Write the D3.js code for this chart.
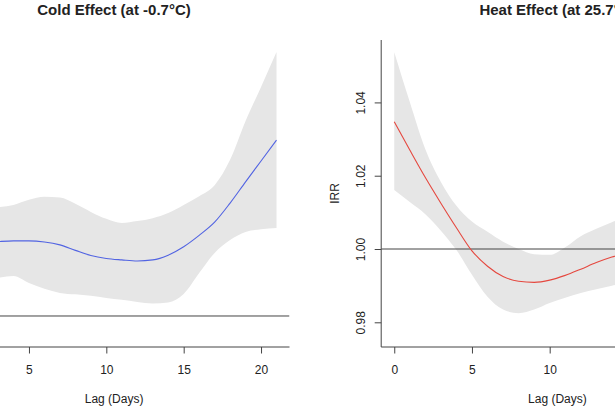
<!DOCTYPE html>
<html>
<head>
<meta charset="utf-8">
<script src="https://cdn.jsdelivr.net/npm/d3@7"></script>
<style>
  body { margin: 0; background: #fff; }
  svg { display: block; }
  text { font-family: "Liberation Sans", Arial, Helvetica, sans-serif; fill: #222; }
</style>
</head>
<body>
<div id="chart"></div>
<script>
// lag-response curves (IRR) with 95% CI
var lags = [0, 1, 2, 3, 4, 5, 6, 7, 8, 9, 10, 11, 12, 13, 14, 15, 16, 17, 18, 19, 20, 21];

var coldFit  = [1.0180, 1.0192, 1.0200, 1.0203, 1.0205, 1.0205, 1.0202, 1.0194, 1.0179, 1.0165, 1.0157,
                1.0153, 1.0150, 1.0153, 1.0166, 1.0189, 1.0220, 1.0256, 1.0308, 1.0366, 1.0423, 1.0480];
var coldHigh = [1.0280, 1.0290, 1.0295, 1.0297, 1.0303, 1.0317, 1.0325, 1.0323, 1.0306, 1.0284, 1.0265,
                1.0254, 1.0259, 1.0267, 1.0281, 1.0303, 1.0327, 1.0357, 1.0426, 1.0532, 1.0625, 1.0720];
var coldLow  = [1.0040, 1.0080, 1.0095, 1.0104, 1.0109, 1.0090, 1.0074, 1.0063, 1.0059, 1.0055, 1.0049,
                1.0044, 1.0038, 1.0034, 1.0037, 1.0060, 1.0117, 1.0172, 1.0207, 1.0229, 1.0237, 1.0240];

var heatFit  = [1.0347, 1.0270, 1.0195, 1.0125, 1.0058, 0.9995, 0.9953, 0.9925, 0.9912, 0.9909, 0.9915,
                0.9928, 0.9945, 0.9963, 0.9978, 0.9990, 0.9998, 1.0003, 1.0005, 1.0005, 1.0003, 1.0000];
var heatHigh = [1.0537, 1.0401, 1.0272, 1.0183, 1.0118, 1.0075, 1.0047, 1.0020, 1.0000, 0.9986, 0.9984,
                1.0005, 1.0035, 1.0055, 1.0073, 1.0088, 1.0100, 1.0110, 1.0120, 1.0130, 1.0140, 1.0150];
var heatLow  = [1.0161, 1.0128, 1.0095, 1.0050, 0.9997, 0.9930, 0.9870, 0.9835, 0.9825, 0.9835, 0.9853,
                0.9867, 0.9880, 0.9890, 0.9900, 0.9905, 0.9905, 0.9900, 0.9890, 0.9880, 0.9870, 0.9850];

var xTicks = [0, 5, 10, 15, 20];
var coldYTicks = [1.00, 1.02, 1.04, 1.06];
var heatYTicks = [0.98, 1.00, 1.02, 1.04];
var coldYLim = [0.99154, 1.0753];
var heatYLim = [0.97326, 1.05703];
var titles = ["Cold Effect (at -0.7\u00b0C)", "Heat Effect (at 25.7\u00b0C)"];

var W = 615, H = 410;
var plotTop = 40, plotBottom = 347;

var svg = d3.select("#chart").append("svg")
    .attr("width", W).attr("height", H);

var panels = [
    {id: "cold", left: -61.4, right: 289.5, fit: coldFit, low: coldLow, high: coldHigh,
     ylim: coldYLim, yTicks: coldYTicks, color: "#5264e2", title: titles[0]},
    {id: "heat", left: 381.2, right: 733.7, fit: heatFit, low: heatLow, high: heatHigh,
     ylim: heatYLim, yTicks: heatYTicks, color: "#e5483f", title: titles[1]}
];

panels.forEach(function(p) {
    var pad = (d3.max(lags) - d3.min(lags)) * 0.04;
    var x = d3.scaleLinear().domain([d3.min(lags) - pad, d3.max(lags) + pad]).range([p.left, p.right]);
    var y = d3.scaleLinear().domain(p.ylim).range([plotBottom, plotTop]);
    var g = svg.append("g").attr("class", "panel-" + p.id);

    g.append("clipPath").attr("id", "clip-" + p.id)
      .append("rect")
        .attr("x", p.left).attr("y", plotTop)
        .attr("width", p.right - p.left).attr("height", plotBottom - plotTop);

    var plot = g.append("g").attr("clip-path", "url(#clip-" + p.id + ")");

    // confidence band
    plot.append("path")
        .datum(lags)
        .attr("fill", "#e6e6e6")
        .attr("d", d3.area()
            .x(function(d, i) { return x(d); })
            .y0(function(d, i) { return y(p.low[i]); })
            .y1(function(d, i) { return y(p.high[i]); })
            .curve(d3.curveMonotoneX));

    // reference line at IRR = 1
    plot.append("line")
        .attr("x1", p.left).attr("x2", p.right)
        .attr("y1", y(1)).attr("y2", y(1))
        .attr("stroke", "#444").attr("stroke-width", 1);

    // fitted curve
    plot.append("path")
        .datum(lags)
        .attr("fill", "none")
        .attr("stroke", p.color)
        .attr("stroke-width", 1.1)
        .attr("d", d3.line()
            .x(function(d) { return x(d); })
            .y(function(d, i) { return y(p.fit[i]); })
            .curve(d3.curveMonotoneX));

    // L shaped box
    g.append("path")
        .attr("d", "M" + p.left + "," + plotTop + "V" + plotBottom + "H" + p.right)
        .attr("fill", "none").attr("stroke", "#444").attr("stroke-width", 1);

    // x axis
    var xa = g.append("g")
        .attr("transform", "translate(0," + plotBottom + ")")
        .call(d3.axisBottom(x).tickValues(xTicks).tickSize(6.5).tickPadding(11.5));
    xa.select(".domain").remove();
    xa.selectAll("line").attr("stroke", "#444");
    xa.selectAll("text").attr("font-size", 12).attr("fill", "#222")
        .style("font-family", "'Liberation Sans', Arial, sans-serif");

    // y axis, labels parallel to the axis
    var ya = g.append("g")
        .attr("transform", "translate(" + p.left + ",0)")
        .call(d3.axisLeft(y).tickValues(p.yTicks).tickSize(6.5).tickFormat(d3.format(".2f")));
    ya.select(".domain").remove();
    ya.selectAll("line").attr("stroke", "#444");
    ya.selectAll("text")
        .attr("x", null).attr("dy", null)
        .attr("text-anchor", "middle")
        .attr("transform", "translate(-16.2,0) rotate(-90)")
        .attr("font-size", 12).attr("fill", "#222")
        .style("font-family", "'Liberation Sans', Arial, sans-serif");

    // axis titles
    var cx = (p.left + p.right) / 2;
    g.append("text")
        .attr("x", cx).attr("y", 403)
        .attr("text-anchor", "middle")
        .attr("font-size", 12)
        .text("Lag (Days)");

    g.append("text")
        .attr("transform", "translate(" + (p.left - 42.5) + "," + ((plotTop + plotBottom) / 2) + ") rotate(-90)")
        .attr("text-anchor", "middle")
        .attr("font-size", 12)
        .text("IRR");

    g.append("text")
        .attr("x", cx).attr("y", 15)
        .attr("text-anchor", "middle")
        .attr("font-size", 15)
        .attr("font-weight", "bold")
        .attr("fill", "#000")
        .text(p.title);
});
</script>
</body>
</html>
